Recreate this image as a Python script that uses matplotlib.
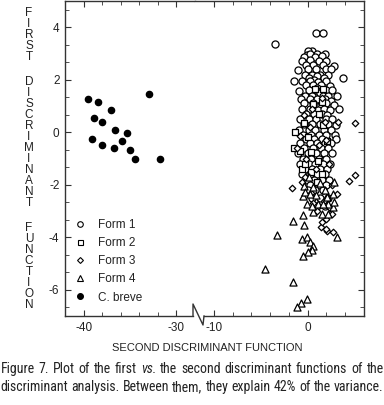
import numpy as np
import matplotlib.pyplot as plt
from matplotlib import font_manager
from matplotlib.font_manager import FontProperties
from matplotlib.lines import Line2D
from matplotlib.ticker import FixedLocator, MultipleLocator

plt.rcParams['font.family'] = ['Liberation Sans', 'DejaVu Sans']
plt.rcParams['axes.unicode_minus'] = False

# values: (second function, first function)
breve_x = [-39.5, -38.4, -37.0, -38.9, -38.0, -36.6, -35.3, -39.1,
           -38.0, -36.7, -35.9, -35.0, -34.5, -31.8, -33.0]
breve_y = [1.27, 1.17, 0.83, 0.53, 0.40, 0.10, -0.04, -0.27,
           -0.50, -0.61, -0.33, -0.69, -1.03, -1.00, 1.46]

form1 = [(0.9, 3.8), (1.6, 3.8), (-3.5, 3.35), (0.5, 3.1), (0.0, 3.1),
         (-0.1, 2.95), (1.84, 3.0), (1.0, 3.0), (0.3, 3.0),
         (-0.4, 2.85), (0.8, 2.85), (1.5, 2.9),
         (-0.57, 2.73), (0.2, 2.75), (1.2, 2.7), (2.0, 2.7),
         (0.6, 2.55), (1.6, 2.55), (2.8, 2.53), (-0.2, 2.55),
         (-1.07, 2.38), (0.0, 2.4), (0.9, 2.4), (1.9, 2.4), (2.5, 2.4),
         (-0.3, 2.2), (0.5, 2.2), (1.3, 2.2), (2.2, 2.2), (1.0, 2.15),
         (3.8, 2.05), (0.1, 2.05), (1.7, 2.05), (0.7, 2.0),
         (-1.5, 1.97), (-0.57, 1.97), (0.3, 1.95), (1.1, 1.9), (2.0, 1.95),
         (-0.2, 1.8), (0.6, 1.8), (1.4, 1.8), (2.4, 1.75), (1.0, 1.7),
         (-0.9, 1.59), (0.1, 1.6), (0.9, 1.6), (1.9, 1.6), (2.6, 1.6), (1.3, 1.5),
         (3.08, 1.4), (-0.3, 1.4), (0.5, 1.4), (1.6, 1.4), (2.2, 1.4),
         (-0.7, 1.26), (0.2, 1.25), (1.0, 1.25), (1.8, 1.25), (2.5, 1.2),
         (-0.4, 1.1), (0.6, 1.1), (1.4, 1.05), (2.0, 1.1), (2.8, 1.05),
         (3.3, 0.88), (-0.6, 0.9), (0.3, 0.9), (1.1, 0.85), (1.7, 0.9), (2.4, 0.85),
         (-0.2, 0.7), (0.7, 0.7), (1.5, 0.7), (2.1, 0.65),
         (-0.8, 0.5), (0.1, 0.5), (0.9, 0.5), (1.9, 0.5), (2.6, 0.5),
         (3.0, 0.26), (-0.4, 0.3), (0.5, 0.3), (1.3, 0.3), (2.2, 0.3),
         (-0.9, 0.1), (0.1, 0.1), (0.8, 0.1), (1.7, 0.1), (2.5, 0.1),
         (-0.5, -0.1), (0.4, -0.1), (1.2, -0.1), (2.0, -0.1), (2.9, -0.1),
         (2.98, -0.25), (-0.2, -0.25), (0.7, -0.25), (1.5, -0.25),
         (-0.8, -0.4), (0.2, -0.4), (1.0, -0.4), (1.8, -0.4), (2.5, -0.4),
         (-0.4, -0.6), (0.6, -0.6), (1.4, -0.6), (2.2, -0.6),
         (-1.0, -0.8), (0.0, -0.8), (0.9, -0.8), (1.7, -0.8), (2.6, -0.8),
         (-0.5, -1.0), (0.4, -1.0), (1.2, -1.0), (2.0, -1.0),
         (-0.8, -1.2), (0.1, -1.2), (0.8, -1.2), (1.6, -1.2), (2.4, -1.2),
         (-0.3, -1.4), (0.5, -1.4), (1.3, -1.4), (2.1, -1.4),
         (-0.6, -1.6), (0.2, -1.6), (1.0, -1.6), (1.8, -1.6),
         (-0.1, -1.8), (0.7, -1.8), (1.5, -1.8), (2.3, -1.8),
         (0.3, -2.0), (1.1, -2.0), (1.9, -2.0),
         (0.0, -2.2), (0.8, -2.2), (1.6, -2.2),
         (0.5, -2.5), (1.3, -2.5), (2.2, -2.5),
         (1.0, -2.8), (1.8, -2.8)]

form2 = [(-1.35, 0.0), (-1.46, -0.6), (-0.82, -0.7), (-0.64, -1.4), (-0.36, 0.34),
         (0.78, 1.65), (1.66, 1.65), (1.49, 1.14), (1.2, 0.7), (1.66, 0.26),
         (0.0, -0.19), (0.35, -0.76), (-0.29, -1.2), (0.35, -1.52), (1.13, -1.08),
         (0.96, -1.9), (1.49, -1.58), (0.6, 1.08), (2.02, -0.32)]

form3 = [(5.07, 0.37), (4.43, -1.87), (5.0, -1.62), (-1.64, -2.12), (3.15, -2.35),
         (3.26, 0.38), (-0.36, 0.64), (-0.82, -0.13), (-0.29, -1.71), (2.55, -3.11),
         (1.41, -3.62), (2.09, -3.75), (2.7, -3.8), (1.5, -3.4), (2.0, -3.7),
         (0.5, 0.9), (1.8, 0.4), (-0.2, -1.0), (1.2, -0.5), (2.3, -1.2),
         (0.4, -2.3), (1.7, -2.6), (2.6, -2.0), (0.9, -1.4), (1.5, 1.3),
         (0.2, 0.2), (2.0, -0.3), (-0.6, -1.9), (1.0, -3.0), (2.4, -2.9),
         (1.9, -3.3), (0.6, -2.7), (-1.1, -0.6)]

form4 = [(-3.3, -3.93), (-4.54, -5.2), (-1.6, -3.39), (-0.53, -3.17), (-0.4, -3.53),
         (-1.53, -5.71), (-0.04, -6.35), (-0.71, -6.51), (-1.17, -6.67),
         (-0.64, -4.06), (-0.1, -4.0), (0.24, -4.19), (0.6, -4.32), (0.42, -4.48),
         (0.07, -4.57), (-0.47, -4.7), (3.08, -4.0), (0.6, -3.05), (1.49, -3.11),
         (2.2, -3.11), (2.73, -2.83), (2.2, -2.73), (2.8, -2.67), (2.09, -2.41),
         (2.72, -2.35), (-0.1, -2.73), (-0.47, -2.41), (1.13, -2.73), (2.83, -1.9),
         (-0.4, -2.03), (0.6, -2.1), (-0.29, -2.29), (0.24, -2.35), (1.66, -2.73),
         (2.05, -2.45), (0.9, -2.4), (1.3, -1.95), (0.1, -1.7), (1.8, -2.2),
         (0.5, -2.8)]

legend_labels = ['Form 1', 'Form 2', 'Form 3', 'Form 4', 'C. breve']

W, H = 384, 405


def fx(px):
    return px / W


def fy(py):
    return 1 - py / H


fig = plt.figure(figsize=(W / 100, H / 100), dpi=100)
ink = '#222222'

# broken x axis: two panels side by side
ax_l = fig.add_axes([fx(65), fy(316), (195 - 65) / W, 315 / H])
ax_r = fig.add_axes([fx(195), fy(316), (364 - 195) / W, 315 / H], sharey=ax_l)
ax_l.set_xlim(-42, -28)
ax_r.set_xlim(-12, 6)
ax_l.set_ylim(-7, 5)

ax_l.scatter(breve_x, breve_y, s=20, color='black', zorder=3)

open_kw = dict(facecolors='white', edgecolors='black', linewidths=0.9, zorder=3)
for pts, mk, size in [(form1, 'o', 26), (form2, 's', 24), (form3, 'D', 11), (form4, '^', 26)]:
    px, py = np.array(pts).T
    ax_r.scatter(px, py, marker=mk, s=size, **open_kw)

for ax in (ax_l, ax_r):
    for sp in ax.spines.values():
        sp.set_color('#333333')
        sp.set_linewidth(1.0)
    ax.yaxis.set_major_locator(MultipleLocator(2))
    ax.yaxis.set_minor_locator(MultipleLocator(2 / 3))
    ax.tick_params(which='both', direction='in', top=True, colors='#333333',
                   labelcolor=ink, labelsize=8.5, pad=4)
    ax.tick_params(which='major', length=4)
    ax.tick_params(which='minor', length=3)

ax_l.spines['right'].set_visible(False)
ax_r.spines['left'].set_visible(False)
ax_l.tick_params(which='both', right=False)
ax_r.tick_params(which='both', left=False, right=True, labelleft=False)

ax_l.xaxis.set_major_locator(FixedLocator([-40, -30]))
ax_l.xaxis.set_minor_locator(FixedLocator([-42, -38, -36, -34, -32]))
ax_r.xaxis.set_major_locator(FixedLocator([-10, 0]))
ax_r.xaxis.set_minor_locator(FixedLocator([-8, -6, -4, -2, 2, 4, 6]))
ax_l.spines['bottom'].set_bounds(-42, -28.25)
ax_r.spines['bottom'].set_bounds(-11.0, 6)

# break mark on the x axis
fig.add_artist(Line2D([fx(193), fx(193), fx(203), fx(204)],
                      [fy(316), fy(304), fy(325), fy(316)],
                      color='#333333', lw=1.0))

# legend
handles = [Line2D([], [], ls='', marker=m, ms=ms, mfc=fc, mec='black', mew=0.8)
           for m, ms, fc in [('o', 4, 'white'), ('s', 3.6, 'white'), ('D', 3, 'white'),
                             ('^', 4, 'white'), ('o', 4.2, 'black')]]
fig.legend(handles, legend_labels, loc='upper left',
           bbox_to_anchor=(fx(74), fy(219)), frameon=False, fontsize=8.5,
           handlelength=1.0, handletextpad=1.0, labelspacing=0.52,
           borderpad=0, borderaxespad=0, labelcolor=ink)

# stacked y label
ypos = 12.7
for word in ['FIRST', 'DISCRIMINANT', 'FUNCTION']:
    for ch in word:
        fig.text(fx(29), fy(ypos), ch, ha='center', va='center', fontsize=8.5, color=ink)
        ypos += 11
    ypos += 14

fig.text(fx(207), fy(348), 'SECOND DISCRIMINANT FUNCTION', ha='center', va='center',
         fontsize=8, color=ink)

# caption, justified to the full width; prefer a narrow face if one is installed
entries = font_manager.fontManager.ttflist
cap_family, cap_stretch = 'Liberation Sans', 'normal'
for pref in ['Liberation Sans Narrow', 'Roboto Condensed', 'Open Sans Condensed',
             'Noto Sans', 'Roboto', 'Open Sans', 'Arial Narrow']:
    hit = [f for f in entries if f.name == pref and
           (f.stretch in ('condensed', 'semi-condensed', 'extra-condensed')
            or 'Narrow' in pref or 'Condensed' in pref)]
    if hit:
        cap_family, cap_stretch = pref, hit[0].stretch
        break

caption = [
    [('Figure', 'normal'), ('7.', 'normal'), ('Plot', 'normal'), ('of', 'normal'),
     ('the', 'normal'), ('first', 'normal'), ('vs.', 'italic'), ('the', 'normal'),
     ('second', 'normal'), ('discriminant', 'normal'), ('functions', 'normal'),
     ('of', 'normal'), ('the', 'normal')],
    [('discriminant', 'normal'), ('analysis.', 'normal'), ('Between', 'normal'),
     ('them,', 'normal'), ('they', 'normal'), ('explain', 'normal'), ('42%', 'normal'),
     ('of', 'normal'), ('the', 'normal'), ('variance.', 'normal')],
]
renderer = fig.canvas.get_renderer()
size = 11
while True:
    widths = []
    texts = []
    for line, base in zip(caption, [373, 391]):
        ts = [fig.text(0, fy(base), w, va='baseline', color=ink,
                       fontproperties=FontProperties(family=cap_family, stretch=cap_stretch,
                                                     style=st, size=size))
              for w, st in line]
        texts.append(ts)
        widths.append([t.get_window_extent(renderer).width for t in ts])
    need = max(sum(w) + (len(w) - 1) * size * 0.25 for w in widths)
    if need <= W - 1 or size < 6:
        break
    for ts in texts:
        for t in ts:
            t.remove()
    size -= 0.25

for ts, ws in zip(texts, widths):
    gap = (W - 1 - sum(ws)) / (len(ws) - 1)
    x = 0.5
    for t, w in zip(ts, ws):
        t.set_x(fx(x))
        x += w + gap

fig.savefig('out.png', dpi=100)
